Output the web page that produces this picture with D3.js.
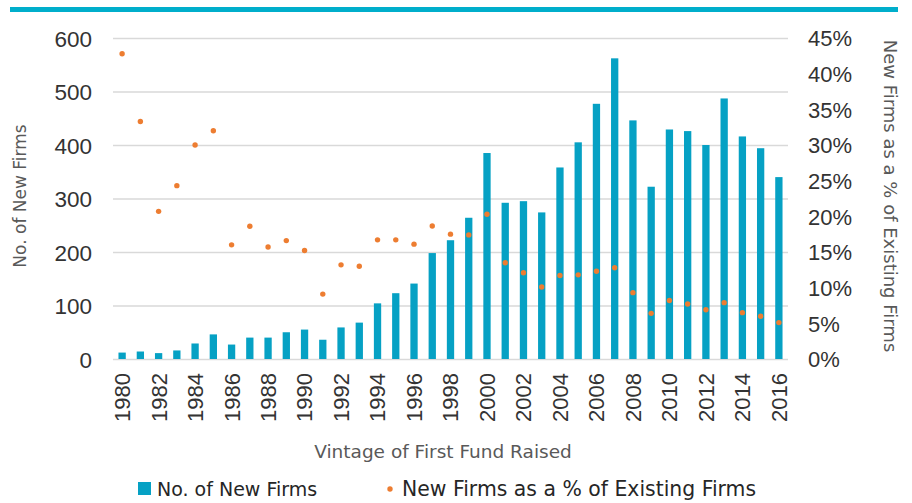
<!DOCTYPE html>
<html>
<head>
<meta charset="utf-8">
<script src="https://cdn.jsdelivr.net/npm/d3@7"></script>
<style>
  body { margin: 0; background: #fff; }
  svg text { font-family: "DejaVu Sans", sans-serif; }
  .tick text { font-family: "Liberation Sans", Arial, sans-serif; }
</style>
</head>
<body>
<div id="chart"></div>
<script>
// chart data
const years = d3.range(1980, 2017);
const newFirms = [12, 14, 11, 16, 29, 46, 27, 40, 40, 50, 55, 36, 59, 68, 104, 123, 141, 198, 222, 264,
  385, 292, 295, 274, 358, 405, 477, 562, 446, 322, 429, 426, 400, 487, 416, 394, 340];
const pctExisting = [42.8, 33.3, 20.7, 24.3, 30.0, 32.0, 16.0, 18.6, 15.7, 16.6, 15.2, 9.1, 13.2, 13.0, 16.7, 16.7,
  16.1, 18.65, 17.5, 17.4, 20.3, 13.5, 12.1, 10.1, 11.7, 11.8, 12.3, 12.8, 9.3, 6.4, 8.2, 7.7, 6.9, 7.9, 6.5, 6.0, 5.1];
const leftTicks = [0, 100, 200, 300, 400, 500, 600];
const rightTicks = [0, 5, 10, 15, 20, 25, 30, 35, 40, 45];
const seriesNames = ["No. of New Firms", "New Firms as a % of Existing Firms"];

var width = 912,
    height = 503;
var margin = {top: 38, right: 124, bottom: 144, left: 113};

const barColor = "#06A1C4";
const dotColor = "#ED7D31";

var svg = d3.select("#chart")
  .append("svg")
    .attr("width", width)
    .attr("height", height);

// teal band across the top
svg.append("rect")
  .attr("x", 10).attr("y", 7)
  .attr("width", 888).attr("height", 5)
  .attr("fill", "#00AECB");

var x = d3.scaleBand()
  .domain(years)
  .range([margin.left, width - margin.right])
  .paddingInner(0.6)
  .paddingOuter(0.3);

var yLeft = d3.scaleLinear()
  .domain([0, 600])
  .range([height - margin.bottom, margin.top]);

var yRight = d3.scaleLinear()
  .domain([0, 45])
  .range([height - margin.bottom, margin.top]);

// gridlines
svg.append("g")
  .selectAll("line")
  .data(leftTicks)
  .enter().append("line")
    .attr("x1", margin.left)
    .attr("x2", width - margin.right)
    .attr("y1", d => yLeft(d) + 0.5)
    .attr("y2", d => yLeft(d) + 0.5)
    .attr("stroke", "#D9D9D9")
    .attr("stroke-width", 1.5);

// bars
svg.append("g")
  .selectAll("rect")
  .data(newFirms)
  .enter().append("rect")
    .attr("x", (d, i) => x(years[i]))
    .attr("width", x.bandwidth())
    .attr("y", d => yLeft(d))
    .attr("height", d => yLeft(0) - yLeft(d))
    .attr("fill", barColor);

// dots
svg.append("g")
  .selectAll("circle")
  .data(pctExisting)
  .enter().append("circle")
    .attr("cx", (d, i) => x(years[i]) + x.bandwidth() / 2)
    .attr("cy", d => yRight(d))
    .attr("r", 2.7)
    .attr("fill", dotColor);

// left axis
var leftAxis = svg.append("g")
  .attr("transform", "translate(92,0)")
  .call(d3.axisLeft(yLeft).tickValues(leftTicks).tickSize(0).tickPadding(0));
leftAxis.select(".domain").remove();
leftAxis.selectAll("text")
  .attr("fill", "#333")
  .style("font-size", "22.5px")
  .attr("dy", "0.36em");

// right axis
var rightAxis = svg.append("g")
  .attr("transform", "translate(808,0)")
  .call(d3.axisRight(yRight).tickValues(rightTicks).tickFormat(d => d + "%").tickSize(0).tickPadding(0));
rightAxis.select(".domain").remove();
rightAxis.selectAll("text")
  .attr("fill", "#333")
  .style("font-size", "22px")
  .attr("dy", "0.36em");

// x axis, every other year, rotated
var xAxis = svg.append("g")
  .attr("transform", "translate(0," + (height - margin.bottom) + ")")
  .call(d3.axisBottom(x).tickValues(years.filter(y => y % 2 === 0)).tickSize(0).tickPadding(0));
xAxis.select(".domain").remove();
xAxis.selectAll("text")
  .attr("fill", "#333")
  .style("font-size", "22px")
  .attr("text-anchor", "end")
  .attr("transform", "rotate(-90)")
  .attr("x", -14)
  .attr("y", 0)
  .attr("dy", "0.36em");

// axis titles
svg.append("text")
  .attr("x", 443).attr("y", 458)
  .attr("text-anchor", "middle")
  .attr("fill", "#595959")
  .style("font-size", "18.5px")
  .text("Vintage of First Fund Raised");

svg.append("text")
  .attr("transform", "translate(26,196) rotate(-90)")
  .attr("text-anchor", "middle")
  .attr("fill", "#595959")
  .style("font-size", "17px")
  .text("No. of New Firms");

svg.append("text")
  .attr("transform", "translate(884,196) rotate(90)")
  .attr("text-anchor", "middle")
  .attr("fill", "#595959")
  .style("font-size", "18px")
  .text("New Firms as a % of Existing Firms");

// legend
var legend = svg.append("g");
legend.append("rect")
  .attr("x", 138).attr("y", 482)
  .attr("width", 13).attr("height", 13)
  .attr("fill", barColor);
legend.append("text")
  .attr("x", 157).attr("y", 496)
  .attr("fill", "#262626")
  .style("font-size", "19px")
  .text(seriesNames[0]);
legend.append("circle")
  .attr("cx", 390).attr("cy", 489)
  .attr("r", 2.7)
  .attr("fill", dotColor);
legend.append("text")
  .attr("x", 402).attr("y", 496)
  .attr("fill", "#262626")
  .style("font-size", "20.4px")
  .text(seriesNames[1]);
</script>
</body>
</html>
